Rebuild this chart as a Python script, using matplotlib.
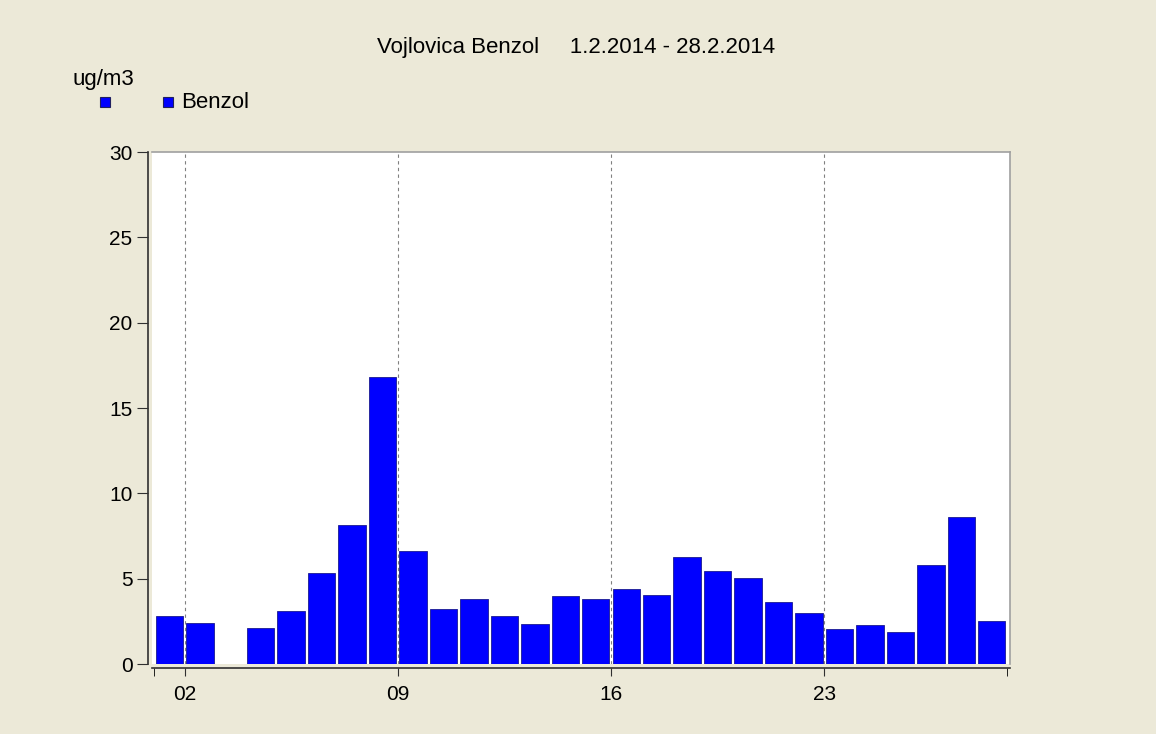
import matplotlib
matplotlib.use("Agg")
import matplotlib.pyplot as plt
from matplotlib.patches import Rectangle

plt.rcParams['font.family'] = ['Liberation Sans', 'DejaVu Sans']

# daily benzene values, February 2014 (day 3 missing)
days = list(range(1, 29))
benzol = [2.84, 2.39, None, 2.09, 3.09, 5.32, 8.16, 16.83, 6.62, 3.25,
          3.80, 2.84, 2.33, 3.99, 3.82, 4.42, 4.05, 6.28, 5.44, 5.03,
          3.66, 2.97, 2.06, 2.29, 1.90, 5.81, 8.59, 2.52]
tick_days = [2, 9, 16, 23]
tick_labels = ['02', '09', '16', '23']

bg = '#ECE9D8'
fig = plt.figure(figsize=(11.56, 7.34), dpi=100, facecolor=bg)
ax = fig.add_axes([152 / 1156, 1 - 664 / 734, 858 / 1156, 512 / 734])
ax.set_facecolor('white')

x = [d + 0.05 for d, v in zip(days, benzol) if v is not None]
y = [v for v in benzol if v is not None]
ax.bar(x, y, width=0.9, align='edge', color='#0000FF', edgecolor='#1a1a90', linewidth=0.6,
       zorder=3)

for d in tick_days:
    ax.axvline(d, color='#808080', linestyle=(0, (3, 3)), linewidth=0.8, zorder=1)

ax.set_xlim(0.93, 29.1)
ax.set_ylim(0, 30)
ax.set_yticks(range(0, 31, 5))
ax.set_xticks(tick_days)
ax.set_xticklabels(tick_labels)
ax.set_xticks([1, 29], minor=True)
ax.tick_params(axis='both', labelsize=15, color='#303030', direction='out')
ax.tick_params(axis='x', which='both', length=6, pad=6)
ax.tick_params(axis='y', length=8, pad=3)

for s in ['top', 'right']:
    ax.spines[s].set_color('#A0A0A0')
    ax.spines[s].set_linewidth(1.2)
for s in ['left', 'bottom']:
    ax.spines[s].set_color('#303030')
    ax.spines[s].set_linewidth(1.2)
    ax.spines[s].set_position(('outward', 3))

fig.text(576 / 1156, 1 - 47 / 734, 'Vojlovica Benzol     1.2.2014 - 28.2.2014',
         ha='center', va='center', fontsize=16)
fig.text(72 / 1156, 1 - 79 / 734, 'ug/m3', ha='left', va='center', fontsize=16)

sq = 10
for cx in [105, 168]:
    fig.patches.append(Rectangle(((cx - sq / 2) / 1156, 1 - (102 + sq / 2) / 734),
                                 sq / 1156, sq / 734, transform=fig.transFigure,
                                 facecolor='#0000FF', edgecolor='#202060', linewidth=0.8))
fig.text(181 / 1156, 1 - 103 / 734, 'Benzol', ha='left', va='center', fontsize=16)

fig.savefig('out.png', dpi=100, facecolor=bg)
